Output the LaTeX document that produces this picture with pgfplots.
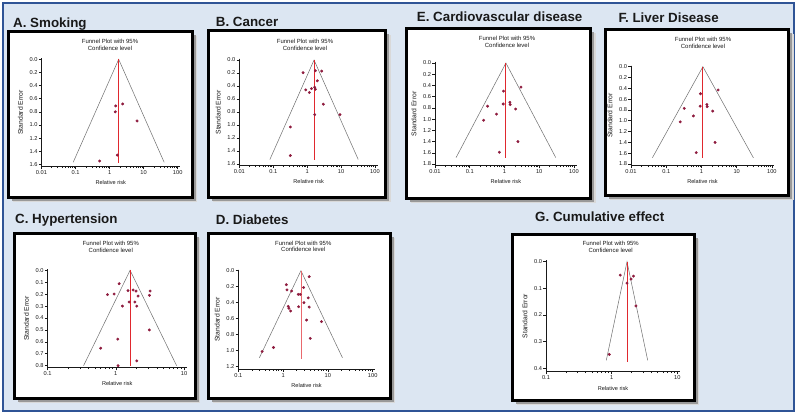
\documentclass[border=0pt]{standalone}
\usepackage{pgfplots}
\pgfplotsset{compat=1.18}
\usepackage{fontspec}
\setmainfont{Liberation Sans}
\definecolor{bgblue}{HTML}{DCE6F2}
\definecolor{frameblue}{HTML}{2F5496}
\definecolor{ptcol}{HTML}{8E1B3E}
\definecolor{redline}{HTML}{E0282E}
\definecolor{funnelgray}{HTML}{6E6E6E}
\pgfkeys{/pgf/number format/assume math mode=true}
\pgfplotsset{
 funnelaxis/.style={
  scale only axis, y dir=reverse,
  axis x line*=bottom, axis y line*=left,
  axis line style={black!90, line width=1bp},
  tick align=outside, major tick length=2.6bp, minor tick length=1.4bp,
  tick style={black!90, line width=0.55bp},
  tick label style={font=\fontsize{5.7}{6.5}\selectfont, text=black!90, inner sep=1.2bp},
  yticklabel={\pgfmathprintnumber[fixed,fixed zerofill,precision=1,assume math mode=true]{\tick}},
  xlabel={Relative risk}, ylabel={Standard Error},
  xlabel style={font=\fontsize{5.6}{6}\selectfont, text=black!90},
  ylabel style={font=\fontsize{6.8}{7}\selectfont, text=black!90},
  xlabel shift=1.5bp, ylabel shift=2bp,
  after end axis/.append code={\draw[black!90, line width=1bp] (axis description cs:0,1) -- (axis description cs:0,0) -- (axis description cs:1,0);},
 },
 dec4/.style={xmin=0.01, xtick={0.01,0.1,1,10,100}, xticklabels={0.01,0.1,1,10,100},
   minor xtick={0.02,0.03,0.04,0.05,0.06,0.07,0.08,0.09,0.2,0.3,0.4,0.5,0.6,0.7,0.8,0.9,2,3,4,5,6,7,8,9,20,30,40,50,60,70,80,90}},
 dec2/.style={xmin=0.1, xtick={0.1,1,10}, xticklabels={0.1,1,10},
   minor xtick={0.2,0.3,0.4,0.5,0.6,0.7,0.8,0.9,2,3,4,5,6,7,8,9}},
 dec3/.style={xmin=0.1, xtick={0.1,1,10,100}, xticklabels={0.1,1,10,100},
   minor xtick={0.2,0.3,0.4,0.5,0.6,0.7,0.8,0.9,2,3,4,5,6,7,8,9,20,30,40,50,60,70,80,90}},
 fline/.style={funnelgray, line width=0.5bp},
 pooled/.style={redline, line width=0.9bp},
 pts/.style={only marks, mark=*, mark size=1.25bp, ptcol},
}
\newcommand{\panelbox}[4]{%
  \fill[black!15] (#1+5,#2+5) rectangle (#3+5,#4+5);
  \fill[black!40] (#1+3.5,#2+3.5) rectangle (#3+3.5,#4+3.5);
  \draw[line width=3bp, fill=white] (#1,#2) rectangle (#3,#4);}
\newcommand{\ftitle}[2]{%
  \node[anchor=north, inner sep=0pt, align=center, font=\fontsize{6}{6.8}\selectfont, text=black!90] at (#1,#2) {Funnel Plot with 95\%\\Confidence level};}
\newcommand{\plabel}[3]{%
  \node[anchor=base west, inner sep=0pt, font=\fontsize{13.4}{15}\selectfont\bfseries, text=black!90] at (#1,#2) {#3};}
\begin{document}
\begin{tikzpicture}
\begin{scope}[x=1bp,y=-1bp]
  \path[use as bounding box] (0,0) rectangle (797,414);
  \fill[white] (0,0) rectangle (797,414);
  \draw[frameblue, line width=1.5bp, fill=bgblue] (3,3) rectangle (794,411);
  \panelbox{8.3}{31}{192}{197}
  \panelbox{208}{30}{385.5}{197}
  \panelbox{406}{28}{590.5}{198}
  \panelbox{605}{29}{788.5}{195}
  \panelbox{14}{233}{195}{398}
  \panelbox{208}{233}{390}{398}
  \panelbox{512}{234}{694}{400}
  \plabel{13}{27.2}{A. Smoking}
  \plabel{215.7}{26.7}{B. Cancer}
  \plabel{416.7}{21.5}{E. Cardiovascular disease}
  \plabel{618.3}{22}{F. Liver Disease}
  \plabel{15}{223.3}{C. Hypertension}
  \plabel{215.7}{224}{D. Diabetes}
  \plabel{535}{221.7}{G. Cumulative effect}
  \ftitle{110}{38.8}
  \ftitle{305}{38.8}
  \ftitle{507}{35.8}
  \ftitle{703}{36.8}
  \ftitle{110.8}{241.1}
  \ftitle{303.3}{240.5}
  \ftitle{610.7}{241.1}
\end{scope}

% A. Smoking
\begin{axis}[xmode=log, funnelaxis, dec4, anchor=north west, at={(41.5bp,-58bp)}, width=138.5bp, height=108.7bp,
  xmax=117, ymin=-0.02, ymax=1.637, ytick={0,0.2,0.4,0.6,0.8,1.0,1.2,1.4,1.6}]
\addplot[fline] coordinates {(0.0853,1.57) (1.85,0) (40.1,1.57)};
\addplot[pooled] coordinates {(1.85,0) (1.85,1.58)};
\addplot[pts] coordinates {(2.42,0.68) (1.51,0.71) (1.47,0.80) (6.4,0.94) (1.69,1.46) (0.51,1.55)};
\end{axis}

% B. Cancer
\begin{axis}[xmode=log, funnelaxis, dec4, anchor=north west, at={(239.3bp,-58.7bp)}, width=138.7bp, height=107bp,
  xmax=123, ymin=-0.02, ymax=1.626, ytick={0,0.2,0.4,0.6,0.8,1.0,1.2,1.4,1.6}]
\addplot[fline] coordinates {(0.0798,1.53) (1.6,0) (32.1,1.53)};
\addplot[pooled] coordinates {(1.6,0) (1.6,1.54)};
\addplot[pts] coordinates {(0.76,0.195) (1.75,0.164) (2.69,0.17) (2.0,0.32) (0.91,0.46) (1.34,0.44) (1.17,0.50) (1.67,0.42) (1.75,0.45) (3.0,0.68) (1.67,0.84) (9.3,0.84) (0.32,1.03) (0.32,1.47)};
\end{axis}

% E. Cardiovascular disease
\begin{axis}[xmode=log, funnelaxis, dec4, anchor=north west, at={(435bp,-61.9bp)}, width=141.7bp, height=103.8bp,
  xmax=120, ymin=-0.02, ymax=1.83, ytick={0,0.2,0.4,0.6,0.8,1.0,1.2,1.4,1.6,1.8}]
\addplot[fline] coordinates {(0.0404,1.685) (1.1,0) (29.9,1.685)};
\addplot[pooled] coordinates {(1.1,0) (1.1,1.69)};
\addplot[pts] coordinates {(2.98,0.43) (0.94,0.50) (0.325,0.77) (0.92,0.73) (1.43,0.70) (1.46,0.74) (2.09,0.82) (0.59,0.91) (0.25,1.02) (2.44,1.40) (0.71,1.59)};
\end{axis}

% F. Liver Disease
\begin{axis}[xmode=log, funnelaxis, dec4, anchor=north west, at={(631bp,-65.6bp)}, width=143bp, height=100.1bp,
  xmax=115, ymin=-0.02, ymax=1.831, ytick={0,0.2,0.4,0.6,0.8,1.0,1.2,1.4,1.6,1.8}]
\addplot[fline] coordinates {(0.0404,1.685) (1.1,0) (29.9,1.685)};
\addplot[pooled] coordinates {(1.1,0) (1.1,1.69)};
\addplot[pts] coordinates {(2.98,0.43) (0.94,0.50) (0.325,0.77) (0.92,0.73) (1.43,0.70) (1.46,0.74) (2.09,0.82) (0.59,0.91) (0.25,1.02) (2.44,1.40) (0.71,1.59)};
\end{axis}

% C. Hypertension
\begin{axis}[xmode=log, funnelaxis, dec2, anchor=north west, at={(47.5bp,-269.1bp)}, width=139.4bp, height=98.6bp,
  xmax=11, ymin=-0.01, ymax=0.817, ytick={0,0.1,0.2,0.3,0.4,0.5,0.6,0.7,0.8}]
\addplot[fline] coordinates {(0.3375,0.80) (1.62,0) (7.78,0.80)};
\addplot[pooled] coordinates {(1.62,0) (1.62,0.80)};
\addplot[pts] coordinates {(1.12,0.112) (0.755,0.204) (0.944,0.199) (1.51,0.171) (1.79,0.165) (1.98,0.174) (2.12,0.216) (3.18,0.174) (3.11,0.21) (1.57,0.266) (1.90,0.266) (1.25,0.30) (2.03,0.30) (3.1,0.50) (1.07,0.577) (0.60,0.653) (2.03,0.76) (1.08,0.80)};
\end{axis}

% D. Diabetes
\begin{axis}[xmode=log, funnelaxis, dec3, anchor=north west, at={(238.3bp,-269.5bp)}, width=136.6bp, height=99.8bp,
  xmax=112, ymin=-0.015, ymax=1.233, ytick={0,0.2,0.4,0.6,0.8,1.0,1.2}]
\addplot[fline] coordinates {(0.295,1.09) (2.5,0) (21.2,1.09)};
\addplot[redline!70, line width=0.7bp] coordinates {(2.5,0) (2.5,1.10)};
\addplot[pts] coordinates {(3.83,0.075) (1.18,0.175) (1.22,0.24) (1.55,0.254) (2.18,0.296) (2.42,0.296) (2.87,0.21) (3.64,0.34) (2.92,0.40) (2.22,0.45) (3.83,0.454) (1.30,0.446) (1.35,0.47) (1.47,0.504) (3.34,0.617) (7.2,0.637) (4.04,0.846) (0.61,0.96) (0.34,1.01)};
\end{axis}

% G. Cumulative effect
\begin{axis}[xmode=log, funnelaxis, dec2, anchor=north west, at={(546bp,-260.4bp)}, width=134.1bp, height=111.3bp,
  xmax=11, ymin=-0.005, ymax=0.413, ytick={0,0.1,0.2,0.3,0.4}]
\addplot[fline] coordinates {(0.828,0.37) (1.71,0) (3.53,0.37)};
\addplot[pooled] coordinates {(1.71,0) (1.71,0.375)};
\addplot[pts] coordinates {(1.35,0.05) (2.14,0.054) (1.97,0.065) (1.71,0.08) (2.34,0.166) (0.92,0.348)};
\end{axis}
\end{tikzpicture}
\end{document}
